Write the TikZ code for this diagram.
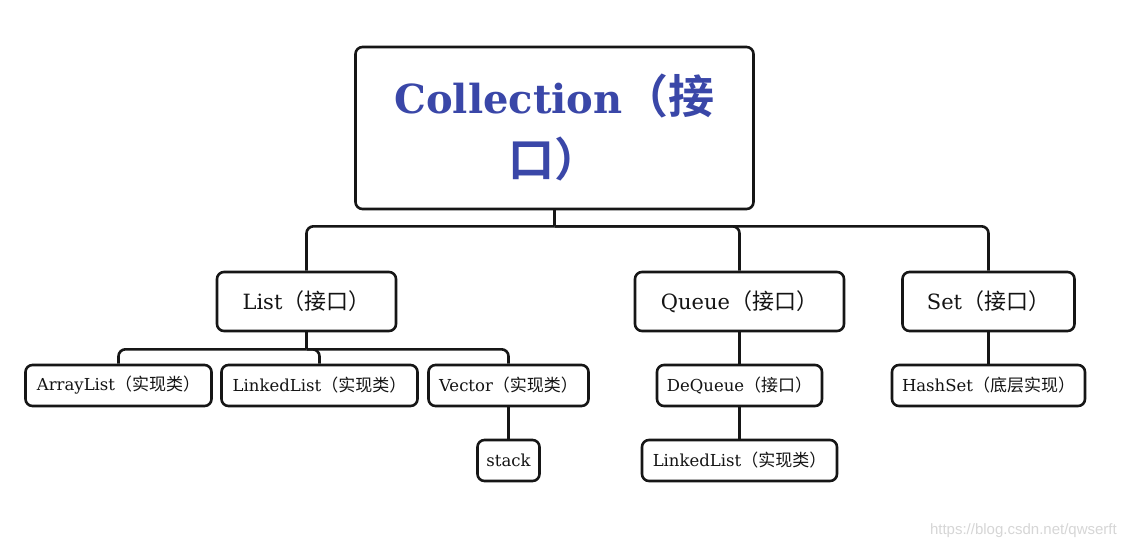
\documentclass[tikz,border=0pt]{standalone}
\usepackage{fontspec}
\setmainfont{DejaVu Serif}
\newfontfamily\cjk{Noto Sans CJK SC}[BoldFont={Noto Sans CJK SC Bold}]
\newfontfamily\wmfont{Liberation Sans}
\usepackage{xcolor}
\usepackage{tikz}
\usetikzlibrary{calc}
\definecolor{bg}{HTML}{FFFFFF}
\definecolor{line}{HTML}{161616}
\definecolor{text}{HTML}{141414}
\definecolor{title}{HTML}{3A47A8}
\definecolor{mark}{HTML}{D6D6D6}
\tikzset{
  box/.style={draw=line, line width=2.6pt, rounded corners=7pt, inner sep=0pt, text=text, align=center},
  conn/.style={draw=line, line width=2.6pt, rounded corners=7pt},
  labl/.style={font=\fontsize{21}{25}\selectfont},
  labs/.style={font=\fontsize{16.5}{20}\selectfont},
  labt/.style={font=\fontsize{40}{60}\selectfont\bfseries, text=title}
}
\begin{document}
\begin{tikzpicture}[x=1pt,y=-1pt]
  \fill[bg] (0,0) rectangle (1126,550);
  \useasboundingbox (0,0) rectangle (1126,550);
  % top
  \node[box, labt, minimum width=398pt, minimum height=162pt] (coll) at (554.5,128)
    {Collection{\cjk\fontsize{46}{60}\selectfont （接}\\[3pt]{\cjk\fontsize{46}{60}\selectfont 口）}};
  % interfaces
  \node[box, labl, minimum width=179pt, minimum height=59pt] (list) at (306.5,301.5) {List{\cjk\fontsize{22}{25}\selectfont （接口）}};
  \node[box, labl, minimum width=209pt, minimum height=59pt] (queue) at (739.5,301.5) {Queue{\cjk\fontsize{22}{25}\selectfont （接口）}};
  \node[box, labl, minimum width=172pt, minimum height=59pt] (set) at (988.5,301.5) {Set{\cjk\fontsize{22}{25}\selectfont （接口）}};
  % classes
  \node[box, labs, minimum width=186pt, minimum height=41pt] (arrlist) at (118.5,385.5) {ArrayList{\cjk\fontsize{17}{20}\selectfont （实现类）}};
  \node[box, labs, minimum width=196pt, minimum height=41pt] (linklist) at (319.5,385.5) {LinkedList{\cjk\fontsize{17}{20}\selectfont （实现类）}};
  \node[box, labs, minimum width=160pt, minimum height=41pt] (vector) at (508.5,385.5) {Vector{\cjk\fontsize{17}{20}\selectfont （实现类）}};
  \node[box, labs, minimum width=62pt, minimum height=41pt] (stack) at (508.5,460.5) {stack};
  \node[box, labs, minimum width=165pt, minimum height=41pt] (deque) at (739.5,385.5) {DeQueue{\cjk\fontsize{17}{20}\selectfont （接口）}};
  \node[box, labs, minimum width=195pt, minimum height=41pt] (linklistq) at (739.5,460.5) {LinkedList{\cjk\fontsize{17}{20}\selectfont （实现类）}};
  \node[box, labs, minimum width=193pt, minimum height=41pt] (hashset) at (988.5,385.5) {HashSet{\cjk\fontsize{17}{20}\selectfont （底层实现）}};
  % connectors
  \coordinate (bus) at ($(coll.south)+(0,16)$);
  \coordinate (listbus) at ($(list.south)+(0,17)$);
  \draw[conn] (coll.south) -- (bus);
  \draw[conn] (bus) -| (list.north);
  \draw[conn] (bus) -| (queue.north);
  \draw[conn] (bus) -| (set.north);
  \draw[conn] (list.south) -- (listbus);
  \draw[conn] (listbus) -| (arrlist.north);
  \draw[conn] (listbus) -| (linklist.north);
  \draw[conn] (listbus) -| (vector.north);
  \draw[conn] (vector) -- (stack);
  \draw[conn] (queue) -- (deque);
  \draw[conn] (deque) -- (linklistq);
  \draw[conn] (set) -- (hashset);
  % watermark
  \node[anchor=east, text=mark, font=\wmfont\fontsize{15}{18}\selectfont, inner sep=0pt] (wm) at (1117,531) {https://blog.csdn.net/qwserft};
\end{tikzpicture}
\end{document}
